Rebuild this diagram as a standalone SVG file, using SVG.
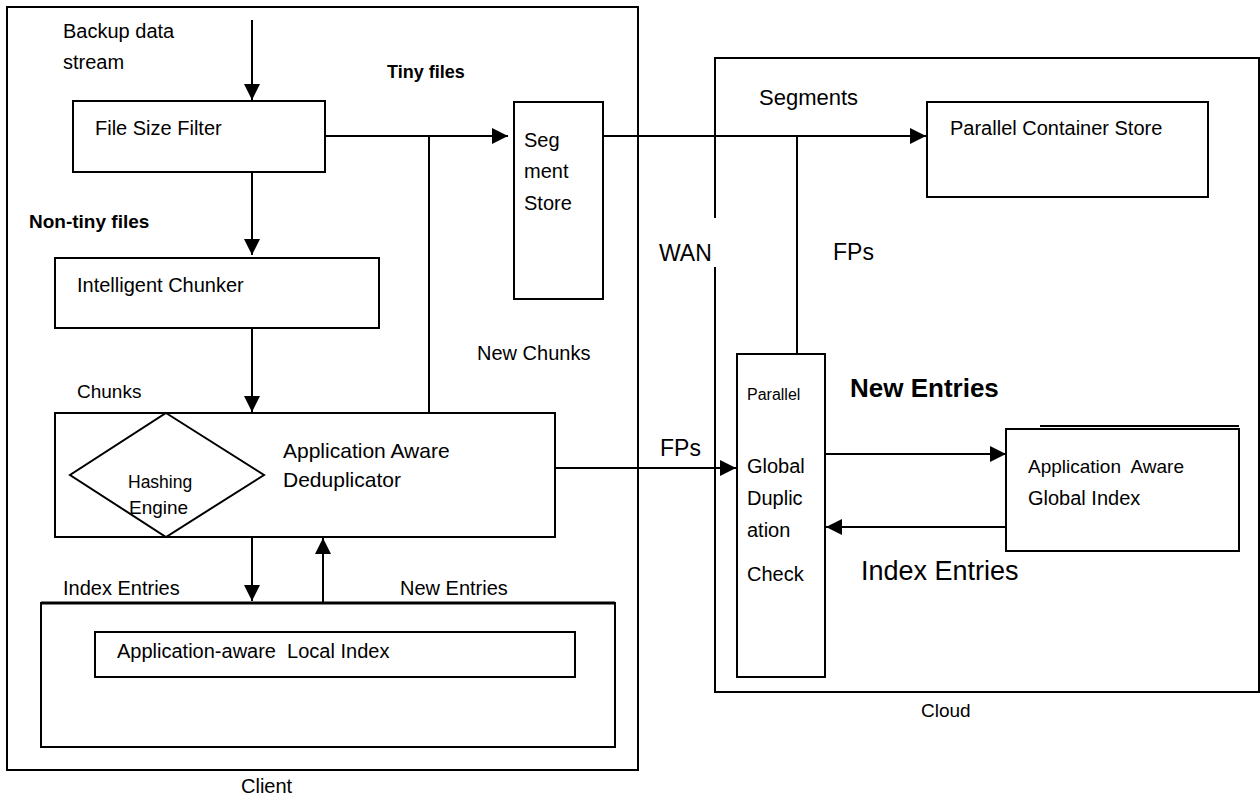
<svg xmlns="http://www.w3.org/2000/svg" width="1260" height="800" viewBox="0 0 1260 800">
<style>
  .box{fill:none;stroke:#000;stroke-width:2}
  .ln{fill:none;stroke:#000;stroke-width:2}
  text{font-family:"Liberation Sans",Arial,sans-serif;font-size:20px;fill:#000}
  .b{font-weight:bold}
</style>
<defs>
  <marker id="ah" viewBox="0 0 16 16" refX="16" refY="8" markerWidth="16" markerHeight="16" markerUnits="userSpaceOnUse" orient="auto">
    <path d="M0,0 L16,8 L0,16 Z" fill="#000"/>
  </marker>
</defs>
<rect width="1260" height="800" fill="#fff"/>

<g id="client">
  <rect class="box" x="7" y="7" width="631" height="763"/>
  <text x="241" y="793">Client</text>
</g>
<g id="cloud">
  <path class="box" d="M715,218 V58 H1259 V692 H715 V267"/>
  <text x="921" y="717" style="font-size:19px">Cloud</text>
  <text x="659" y="261" style="font-size:23px">WAN</text>
</g>

<g id="backup-label">
  <text x="63" y="38">Backup data</text>
  <text x="63" y="69">stream</text>
</g>
<g id="file-size-filter">
  <rect class="box" x="73" y="101" width="252" height="71"/>
  <text x="95" y="135">File Size Filter</text>
</g>
<g id="intelligent-chunker">
  <rect class="box" x="55" y="258" width="324" height="70"/>
  <text x="77" y="292">Intelligent Chunker</text>
</g>
<g id="segment-store">
  <rect class="box" x="514" y="102" width="89" height="197"/>
  <text x="524" y="147">Seg</text>
  <text x="524" y="178">ment</text>
  <text x="524" y="210">Store</text>
</g>
<g id="deduplicator">
  <rect class="box" x="55" y="413" width="500" height="124"/>
  <polygon class="box" points="166,413 264,475 166,537 70,475"/>
  <text x="128" y="488" style="font-size:17.5px">Hashing</text>
  <text x="129" y="514" style="font-size:19px">Engine</text>
  <text x="283" y="458" style="font-size:21px">Application Aware</text>
  <text x="283" y="487" style="font-size:21px">Deduplicator</text>
</g>
<g id="local-index">
  <rect class="box" x="41" y="603" width="574" height="144"/>
  <line x1="41" y1="603" x2="615" y2="603" stroke="#000" stroke-width="3"/>
  <rect class="box" x="95" y="632" width="480" height="45"/>
  <text x="117" y="658" xml:space="preserve">Application-aware  Local Index</text>
</g>
<g id="parallel-container-store">
  <rect class="box" x="927" y="102" width="281" height="95"/>
  <text x="950" y="135">Parallel Container Store</text>
</g>
<g id="global-dup-check">
  <rect class="box" x="737" y="354" width="88" height="323"/>
  <text x="747" y="400" style="font-size:16px">Parallel</text>
  <text x="747" y="473">Global</text>
  <text x="747" y="505">Duplic</text>
  <text x="747" y="537">ation</text>
  <text x="747" y="581">Check</text>
</g>
<g id="global-index">
  <rect class="box" x="1006" y="429" width="233" height="122"/>
  <line x1="1040" y1="426" x2="1239" y2="426" stroke="#000" stroke-width="2"/>
  <text x="1028" y="473" xml:space="preserve" style="font-size:19px">Application  Aware</text>
  <text x="1028" y="505">Global Index</text>
</g>

<g id="connectors">
  <line class="ln" x1="252" y1="20" x2="252" y2="100" marker-end="url(#ah)"/>
  <line class="ln" x1="252" y1="172" x2="252" y2="255" marker-end="url(#ah)"/>
  <line class="ln" x1="252" y1="328" x2="252" y2="412" marker-end="url(#ah)"/>
  <line class="ln" x1="325" y1="136" x2="508" y2="136" marker-end="url(#ah)"/>
  <line class="ln" x1="429" y1="136" x2="429" y2="413"/>
  <line class="ln" x1="603" y1="136" x2="926" y2="136" marker-end="url(#ah)"/>
  <line class="ln" x1="797" y1="136" x2="797" y2="354"/>
  <line class="ln" x1="555" y1="468" x2="736" y2="468" marker-end="url(#ah)"/>
  <line class="ln" x1="252" y1="537" x2="252" y2="601" marker-end="url(#ah)"/>
  <line class="ln" x1="323" y1="602" x2="323" y2="538" marker-end="url(#ah)"/>
  <line class="ln" x1="825" y1="454" x2="1006" y2="454" marker-end="url(#ah)"/>
  <line class="ln" x1="1006" y1="527" x2="826" y2="527" marker-end="url(#ah)"/>
</g>

<g id="labels">
  <text x="387" y="78" class="b" style="font-size:18px">Tiny files</text>
  <text x="29" y="228" class="b" style="font-size:19px">Non-tiny files</text>
  <text x="477" y="360">New Chunks</text>
  <text x="77" y="398" style="font-size:19px">Chunks</text>
  <text x="63" y="595">Index Entries</text>
  <text x="400" y="595">New Entries</text>
  <text x="759" y="105" style="font-size:22px">Segments</text>
  <text x="833" y="260" style="font-size:23px">FPs</text>
  <text x="660" y="456" style="font-size:23px">FPs</text>
  <text x="850" y="397" class="b" style="font-size:26px">New Entries</text>
  <text x="861" y="580" style="font-size:27px">Index Entries</text>
</g>
</svg>
